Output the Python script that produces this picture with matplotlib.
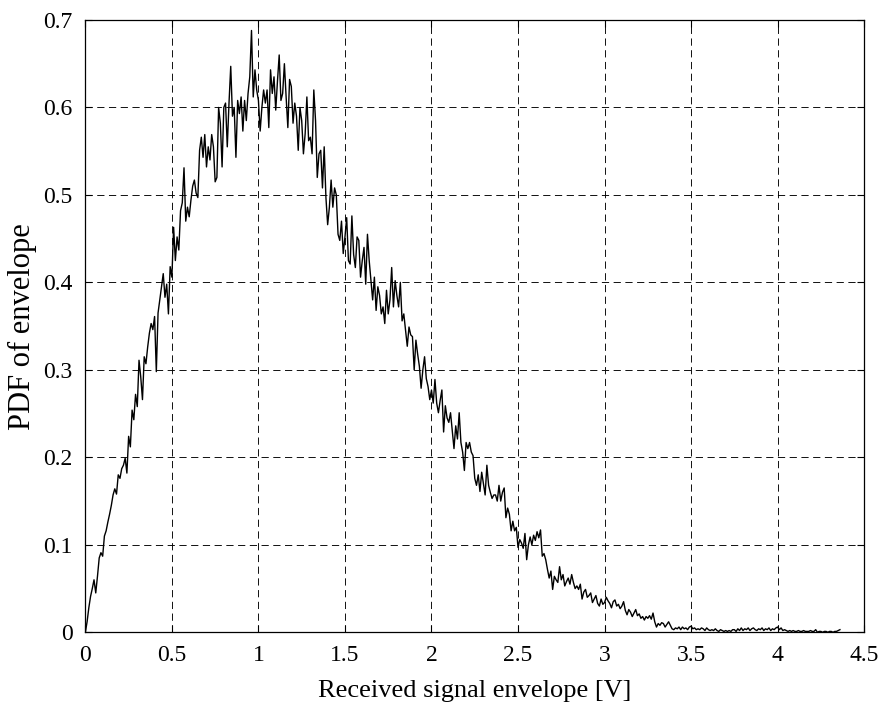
import numpy as np
import matplotlib
matplotlib.use('Agg')
from matplotlib import pyplot as plt

# histogram estimate of the envelope pdf, one value per 0.01 V bin
bin_step = 0.01
pdf = [
    0.000, 0.012, 0.028, 0.041, 0.050, 0.060, 0.045, 0.064, 0.085, 0.091,
    0.087, 0.110, 0.116, 0.126, 0.135, 0.145, 0.157, 0.164, 0.158, 0.180,
    0.176, 0.187, 0.191, 0.199, 0.182, 0.224, 0.212, 0.254, 0.243, 0.272,
    0.258, 0.311, 0.292, 0.266, 0.315, 0.307, 0.326, 0.342, 0.353, 0.346,
    0.361, 0.298, 0.365, 0.380, 0.395, 0.410, 0.383, 0.398, 0.364, 0.418,
    0.406, 0.463, 0.425, 0.452, 0.437, 0.482, 0.491, 0.531, 0.470, 0.486,
    0.475, 0.494, 0.510, 0.517, 0.502, 0.497, 0.551, 0.566, 0.543, 0.569,
    0.532, 0.555, 0.540, 0.569, 0.555, 0.515, 0.520, 0.600, 0.582, 0.532,
    0.600, 0.605, 0.555, 0.605, 0.647, 0.590, 0.600, 0.543, 0.608, 0.593,
    0.612, 0.573, 0.608, 0.585, 0.616, 0.635, 0.688, 0.612, 0.643, 0.620,
    0.608, 0.573, 0.600, 0.620, 0.605, 0.620, 0.577, 0.643, 0.616, 0.635,
    0.597, 0.630, 0.660, 0.608, 0.616, 0.650, 0.612, 0.577, 0.632, 0.624,
    0.582, 0.605, 0.590, 0.551, 0.600, 0.585, 0.547, 0.570, 0.612, 0.562,
    0.566, 0.547, 0.620, 0.585, 0.520, 0.547, 0.551, 0.508, 0.555, 0.497,
    0.466, 0.486, 0.517, 0.486, 0.508, 0.500, 0.455, 0.448, 0.470, 0.433,
    0.452, 0.474, 0.425, 0.421, 0.476, 0.432, 0.417, 0.452, 0.448, 0.406,
    0.425, 0.440, 0.398, 0.455, 0.425, 0.402, 0.380, 0.406, 0.368, 0.395,
    0.385, 0.364, 0.372, 0.353, 0.391, 0.364, 0.380, 0.417, 0.372, 0.402,
    0.385, 0.372, 0.400, 0.356, 0.364, 0.345, 0.327, 0.349, 0.340, 0.338,
    0.300, 0.334, 0.318, 0.304, 0.279, 0.300, 0.315, 0.290, 0.281, 0.266,
    0.277, 0.262, 0.289, 0.262, 0.251, 0.265, 0.277, 0.229, 0.259, 0.245,
    0.240, 0.251, 0.230, 0.210, 0.236, 0.221, 0.251, 0.217, 0.206, 0.185,
    0.217, 0.210, 0.217, 0.206, 0.202, 0.176, 0.168, 0.180, 0.161, 0.183,
    0.170, 0.157, 0.191, 0.168, 0.160, 0.153, 0.157, 0.157, 0.150, 0.168,
    0.150, 0.160, 0.165, 0.131, 0.142, 0.135, 0.116, 0.127, 0.116, 0.120,
    0.097, 0.106, 0.102, 0.096, 0.113, 0.083, 0.100, 0.109, 0.100, 0.111,
    0.105, 0.115, 0.108, 0.117, 0.087, 0.090, 0.083, 0.072, 0.062, 0.070,
    0.049, 0.064, 0.060, 0.057, 0.075, 0.060, 0.066, 0.053, 0.058, 0.062,
    0.055, 0.066, 0.057, 0.050, 0.053, 0.049, 0.055, 0.038, 0.046, 0.049,
    0.040, 0.042, 0.045, 0.034, 0.038, 0.042, 0.033, 0.030, 0.038, 0.032,
    0.034, 0.040, 0.036, 0.033, 0.028, 0.035, 0.037, 0.030, 0.032, 0.027,
    0.030, 0.035, 0.025, 0.020, 0.026, 0.023, 0.018, 0.022, 0.026, 0.019,
    0.021, 0.016, 0.018, 0.014, 0.018, 0.016, 0.019, 0.015, 0.022, 0.012,
    0.006, 0.010, 0.008, 0.011, 0.010, 0.006, 0.009, 0.012, 0.008, 0.004,
    0.003, 0.005, 0.004, 0.006, 0.003, 0.006, 0.004, 0.005, 0.003, 0.006,
    0.007, 0.004, 0.005, 0.003, 0.004, 0.003, 0.005, 0.004, 0.002, 0.005,
    0.003, 0.002, 0.003, 0.002, 0.004, 0.002, 0.001, 0.003, 0.002, 0.001,
    0.002, 0.001, 0.002, 0.001, 0.003, 0.003, 0.001, 0.004, 0.002, 0.005,
    0.002, 0.004, 0.003, 0.005, 0.002, 0.004, 0.005, 0.003, 0.002, 0.004,
    0.003, 0.005, 0.002, 0.004, 0.003, 0.005, 0.002, 0.004, 0.003, 0.005,
    0.006, 0.003, 0.005, 0.002, 0.003, 0.002, 0.001, 0.002, 0.001, 0.002,
    0.001, 0.001, 0.002, 0.001, 0.001, 0.002, 0.001, 0.001, 0.001, 0.002,
    0.001, 0.001, 0.003, 0.000, 0.001, 0.001, 0.000, 0.001, 0.001, 0.000,
    0.001, 0.001, 0.000, 0.001, 0.001, 0.002, 0.003,
]
envelope = np.arange(len(pdf)) * bin_step

x_ticks = [0, 0.5, 1, 1.5, 2, 2.5, 3, 3.5, 4, 4.5]
x_ticklabels = ['0', '0.5', '1', '1.5', '2', '2.5', '3', '3.5', '4', '4.5']
y_ticks = [0, 0.1, 0.2, 0.3, 0.4, 0.5, 0.6, 0.7]
y_ticklabels = ['0', '0.1', '0.2', '0.3', '0.4', '0.5', '0.6', '0.7']

plt.rcParams['font.family'] = ['Liberation Serif', 'DejaVu Serif']

fig = plt.figure(figsize=(8.8, 7.06), dpi=100)
ax = fig.add_axes([0.097, 0.1044, 0.885, 0.8673])

ax.plot(envelope, pdf, color='k', linewidth=1.0)

ax.set_xlim(0, 4.5)
ax.set_ylim(0, 0.7)
ax.set_xticks(x_ticks)
ax.set_xticklabels(x_ticklabels)
ax.set_yticks(y_ticks)
ax.set_yticklabels(y_ticklabels)
ax.tick_params(direction='in', length=5, width=0.8, labelsize=17,
               top=True, right=True)
ax.tick_params(axis='x', pad=9)
ax.tick_params(axis='y', pad=9)
ax.grid(True, color='k', linewidth=0.65, linestyle=(0, (8, 5)))
for sp in ax.spines.values():
    sp.set_linewidth(0.9)

ax.set_xlabel('Received signal envelope [V]', fontsize=19, labelpad=10)
ax.set_ylabel('PDF of envelope', fontsize=22, labelpad=5)

fig.savefig('out.png', dpi=100)
